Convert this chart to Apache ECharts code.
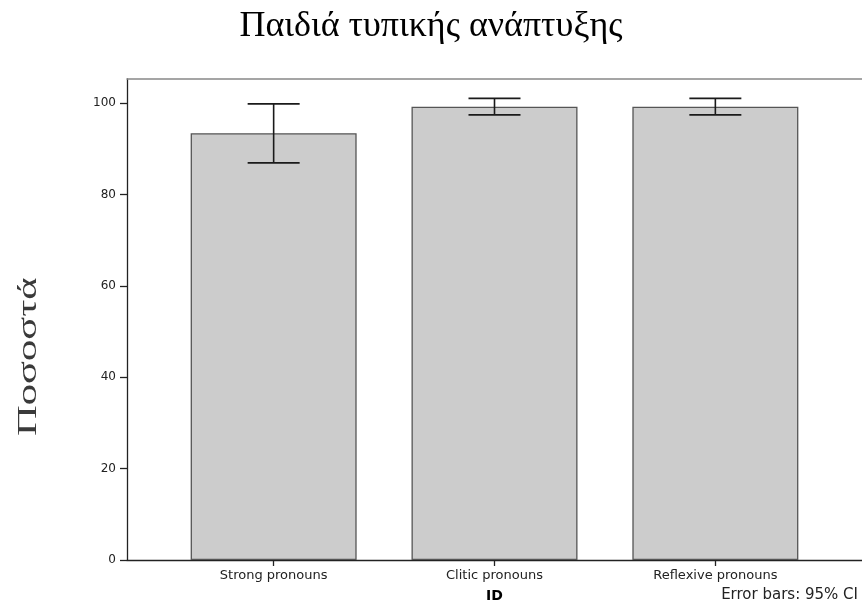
<!DOCTYPE html>
<html>
<head>
<meta charset="utf-8">
<script src="https://cdn.jsdelivr.net/npm/echarts@6/dist/echarts.min.js"></script>
<style>
  html, body { margin: 0; padding: 0; background: #fff; }
  #chart { width: 862px; height: 605px; }
</style>
</head>
<body>
<div id="chart"></div>
<script>
// categories and values
var categories = ['Strong pronouns', 'Clitic pronouns', 'Reflexive pronouns'];
var positions = [1, 2, 3];
var means = [93.4, 99.2, 99.2];
var ciLow = [86.9, 97.4, 97.4];
var ciHigh = [99.8, 101.0, 101.0];
var yTicks = [0, 20, 40, 60, 80, 100];

var myChart = echarts.init(document.getElementById('chart'));

var barData = [];
var errData = [];
for (var i = 0; i < positions.length; i++) {
    barData.push([positions[i], means[i]]);
    errData.push([positions[i], ciLow[i], ciHigh[i]]);
}

var option = {
    animation: false,
    backgroundColor: '#fff',
    title: {
        text: 'Παιδιά τυπικής ανάπτυξης',
        left: 'center',
        top: 4,
        textStyle: {
            fontFamily: 'Liberation Serif',
            fontSize: 36,
            fontWeight: 'normal',
            color: '#000'
        }
    },
    // plot frame runs past the right edge of the picture
    grid: { left: 127, top: 79, width: 737, height: 481 },
    xAxis: [
        {
            type: 'value',
            min: 0.336, max: 3.664,
            splitLine: { show: false },
            axisLine: { lineStyle: { color: '#222', width: 1.3 } },
            axisTick: { customValues: positions, length: 6, lineStyle: { color: '#222', width: 1.3 } },
            axisLabel: {
                customValues: positions,
                formatter: function (v) { return categories[Math.round(v) - 1]; },
                fontFamily: 'DejaVu Sans', fontSize: 13, color: '#222', margin: 9
            }
        },
        {
            // top frame line only
            type: 'value', position: 'top',
            min: 0.336, max: 3.664,
            splitLine: { show: false },
            axisLine: { show: true, lineStyle: { color: '#888', width: 1.5 } },
            axisTick: { show: false },
            axisLabel: { show: false }
        }
    ],
    yAxis: {
        type: 'value',
        min: 0, max: 105.25,
        splitLine: { show: false },
        axisLine: { show: true, lineStyle: { color: '#222', width: 1.3 } },
        axisTick: { show: true, customValues: yTicks, length: 7, lineStyle: { color: '#222', width: 1.3 } },
        axisLabel: {
            customValues: yTicks,
            fontFamily: 'DejaVu Sans', fontSize: 12, color: '#222', margin: 11
        }
    },
    graphic: [
        {
            type: 'text', x: 486, y: 589,
            style: { text: 'ID', fontFamily: 'DejaVu Sans', fontSize: 14, fontWeight: 'bold', fill: '#000' }
        },
        {
            type: 'text', right: 4, top: 588,
            style: { text: 'Error bars: 95% CI', fontFamily: 'DejaVu Sans', fontSize: 15, fill: '#222' }
        },
        {
            type: 'text', x: 15, y: 436, rotation: Math.PI / 2, scaleX: 1.52,
            style: { text: 'Ποσοστά', fontFamily: 'Liberation Serif', fontSize: 28, fill: '#3a3a3a' }
        }
    ],
    series: [
        {
            type: 'bar',
            data: barData,
            barWidth: 166,
            itemStyle: { color: '#cccccc', borderColor: '#555', borderWidth: 1.3 }
        },
        {
            type: 'custom',
            data: errData,
            z: 5,
            renderItem: function (params, api) {
                var x = api.value(0);
                var lo = api.coord([x, api.value(1)]);
                var hi = api.coord([x, api.value(2)]);
                var half = 26;
                var st = { stroke: '#1a1a1a', lineWidth: 1.6 };
                return {
                    type: 'group',
                    children: [
                        { type: 'line', shape: { x1: lo[0], y1: lo[1], x2: hi[0], y2: hi[1] }, style: st },
                        { type: 'line', shape: { x1: lo[0] - half, y1: lo[1], x2: lo[0] + half, y2: lo[1] }, style: st },
                        { type: 'line', shape: { x1: hi[0] - half, y1: hi[1], x2: hi[0] + half, y2: hi[1] }, style: st }
                    ]
                };
            }
        }
    ]
};

myChart.setOption(option);
</script>
</body>
</html>
